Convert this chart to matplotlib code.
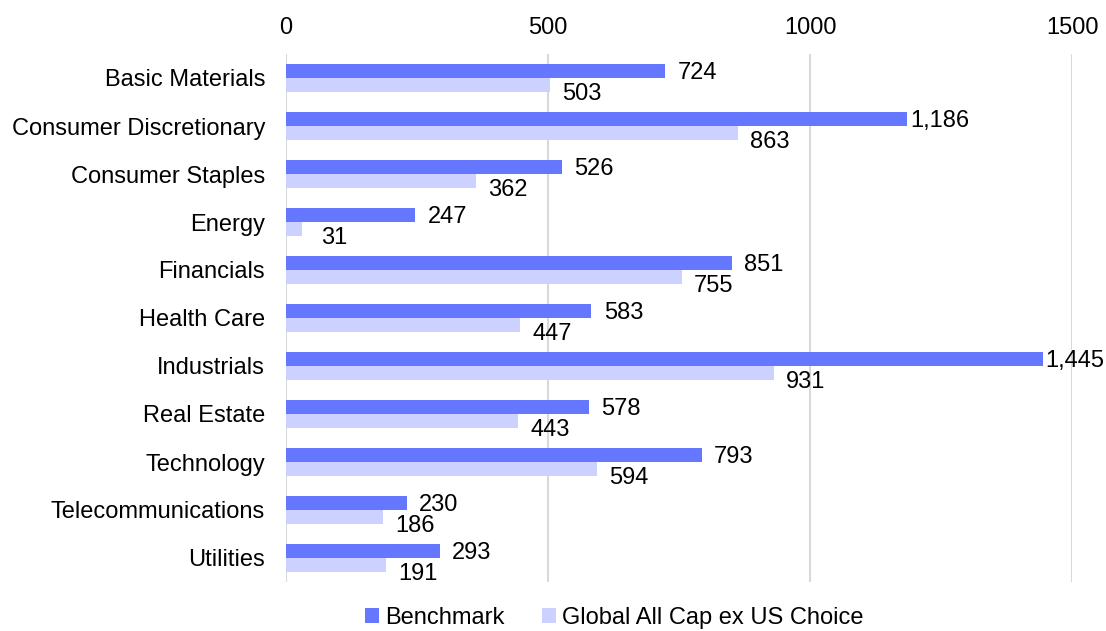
import matplotlib.pyplot as plt
import numpy as np

plt.rcParams['font.family'] = ['Liberation Sans', 'DejaVu Sans']

categories = ['Basic Materials', 'Consumer Discretionary', 'Consumer Staples', 'Energy',
              'Financials', 'Health Care', 'Industrials', 'Real Estate', 'Technology',
              'Telecommunications', 'Utilities']
benchmark = [724, 1186, 526, 247, 851, 583, 1445, 578, 793, 230, 293]
global_choice = [503, 863, 362, 31, 755, 447, 931, 443, 594, 186, 191]
x_ticks = [0, 500, 1000, 1500]

dark = '#6677FF'
light = '#CCD1FF'
fs = 17

fig = plt.figure(figsize=(11.06, 6.31), dpi=100)
ax = fig.add_axes([286 / 1106, 1 - 582 / 631, 786 / 1106, 528 / 631])

y = np.arange(len(categories))
h = 0.285
bars1 = ax.barh(y - h / 2, benchmark, height=h, color=dark, label='Benchmark', zorder=3)
bars2 = ax.barh(y + h / 2, global_choice, height=h, color=light,
                label='Global All Cap ex US Choice', zorder=3)

# data labels
for b, v in zip(bars1, benchmark):
    ax.annotate(f'{v:,}', (b.get_width(), b.get_y() + b.get_height() / 2),
                xytext=(23, -1.5), textcoords='offset points', ha='center', va='center',
                fontsize=fs, annotation_clip=False)
for b, v in zip(bars2, global_choice):
    ax.annotate(f'{v:,}', (b.get_width(), b.get_y() + b.get_height() / 2),
                xytext=(23, -6.5), textcoords='offset points', ha='center', va='center',
                fontsize=fs, annotation_clip=False)

ax.set_xlim(0, 1500)
ax.set_ylim(len(categories) - 0.5, -0.5)
ax.set_xticks(x_ticks)
ax.set_yticks(y)
ax.set_yticklabels(categories)
ax.xaxis.tick_top()
ax.tick_params(axis='both', length=0, labelsize=fs)
ax.tick_params(axis='x', pad=11)
ax.tick_params(axis='y', pad=15)
ax.grid(axis='x', color='#D9D9D9', linewidth=1.5, zorder=0)
for s in ax.spines.values():
    s.set_visible(False)

fig.legend(loc='center', bbox_to_anchor=(614 / 1106, 1 - 618 / 631), ncol=2,
           frameon=False, fontsize=fs, handlelength=0.6, handleheight=0.6,
           handletextpad=0.25, columnspacing=1.6)

fig.savefig('out.png', dpi=100)
